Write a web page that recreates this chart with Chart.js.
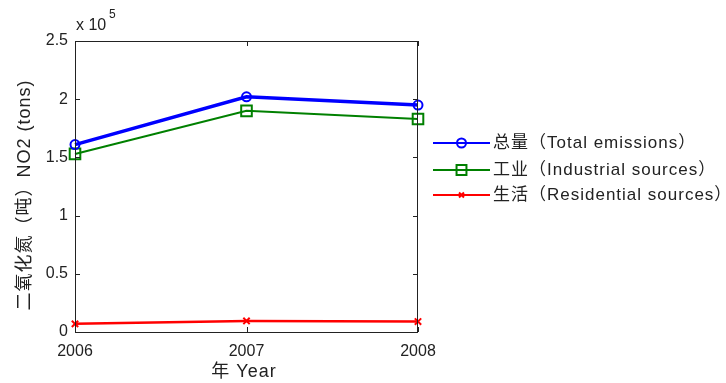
<!DOCTYPE html>
<html>
<head>
<meta charset="utf-8">
<script src="https://cdn.jsdelivr.net/npm/chart.js@4/dist/chart.umd.min.js"></script>
<style>
  html, body { margin: 0; padding: 0; background: #ffffff; }
  #wrap { width: 726px; height: 383px; }
</style>
</head>
<body>
<div id="wrap"><canvas id="c" width="726" height="383"></canvas></div>
<script>
// Years on the x axis
const years = ['2006', '2007', '2008'];

// NO2 emissions in tons
const totalEmissions = [161000, 202000, 195000];
const industrialSources = [153000, 190000, 183000];
const residentialSources = [7000, 9500, 9000];

// Y tick values (tons) and legend labels
const yTicks = [0, 50000, 100000, 150000, 200000, 250000];
const seriesLabels = ['总量（Total emissions）', '工业（Industrial sources）', '生活（Residential sources）'];

const axisFont = '16px "Liberation Sans", "Noto Sans CJK SC", sans-serif';
const titleFont = '18px "Liberation Sans", "Noto Sans CJK SC", sans-serif';
const textColor = '#222222';

// Box frame with MATLAB-style inward ticks, axis titles, exponent label and legend
const decorations = {
  id: 'decorations',
  afterDatasetsDraw(chart) {
    const ctx = chart.ctx;
    const a = chart.chartArea;
    const xs = chart.scales.x, ys = chart.scales.y;
    ctx.save();
    ctx.strokeStyle = '#222222';
    ctx.lineWidth = 1;
    ctx.beginPath();
    ctx.rect(a.left + 0.5, a.top + 0.5, a.right - a.left - 1, a.bottom - a.top);
    ctx.stroke();
    const tl = 5;
    ctx.beginPath();
    yTicks.forEach(v => {
      const y = Math.round(ys.getPixelForValue(v)) + 0.5;
      ctx.moveTo(a.left, y); ctx.lineTo(a.left + tl, y);
      ctx.moveTo(a.right, y); ctx.lineTo(a.right - tl, y);
    });
    years.forEach((_, i) => {
      const x = Math.round(xs.getPixelForValue(i)) + 0.5;
      ctx.moveTo(x, a.bottom); ctx.lineTo(x, a.bottom - tl);
      ctx.moveTo(x, a.top); ctx.lineTo(x, a.top + tl);
    });
    ctx.stroke();
    ctx.restore();
  },
  afterDraw(chart) {
    const ctx = chart.ctx;
    const a = chart.chartArea;
    ctx.save();
    ctx.fillStyle = textColor;
    ctx.font = axisFont;
    ctx.textBaseline = 'middle';

    // exponent label above the y axis
    ctx.textAlign = 'left';
    ctx.fillText('x 10', a.left + 1, 26);
    ctx.font = '12px "Liberation Sans", sans-serif';
    ctx.fillText('5', a.left + 34, 15);

    // axis titles
    ctx.font = titleFont;
    ctx.letterSpacing = '1px';
    ctx.textAlign = 'center';
    ctx.fillText('年 Year', 244, 372);

    ctx.save();
    ctx.translate(25, 195);
    ctx.rotate(-Math.PI / 2);
    ctx.fillText('二氧化氮（吨）NO2 (tons)', 0, 0);
    ctx.restore();

    // legend
    const rows = [143, 170, 195];
    chart.data.datasets.forEach((ds, i) => {
      const y = rows[i];
      ctx.strokeStyle = ds.borderColor;
      ctx.lineWidth = 2;
      ctx.beginPath();
      ctx.moveTo(433, y); ctx.lineTo(490, y);
      ctx.stroke();
      ctx.fillStyle = 'rgba(0,0,0,0)';
      ctx.lineWidth = 2;
      Chart.helpers.drawPoint(ctx, {
        pointStyle: ds.pointStyle,
        radius: ds.legendRadius,
        rotation: 0,
        borderWidth: 2
      }, 461.5, y);
      ctx.fillStyle = textColor;
      ctx.font = '17px "Liberation Sans", "Noto Sans CJK SC", sans-serif';
      ctx.letterSpacing = '1px';
      ctx.textAlign = 'left';
      ctx.fillText(ds.label, 493, y);
    });
    ctx.restore();
  }
};

new Chart(document.getElementById('c'), {
  type: 'line',
  data: {
    labels: years,
    datasets: [
      {
        label: seriesLabels[0],
        data: totalEmissions,
        borderColor: '#0000ff',
        backgroundColor: 'rgba(0,0,0,0)',
        borderWidth: 3.5,
        pointStyle: 'circle',
        pointRadius: 4.5,
        pointBorderWidth: 2,
        legendRadius: 4.5,
        order: 1
      },
      {
        label: seriesLabels[1],
        data: industrialSources,
        borderColor: '#008000',
        backgroundColor: 'rgba(0,0,0,0)',
        borderWidth: 2,
        pointStyle: 'rect',
        pointRadius: 7.5,
        pointBorderWidth: 2,
        legendRadius: 7,
        order: 2
      },
      {
        label: seriesLabels[2],
        data: residentialSources,
        borderColor: '#ff0000',
        backgroundColor: 'rgba(0,0,0,0)',
        borderWidth: 2.5,
        pointStyle: 'crossRot',
        pointRadius: 4.5,
        pointBorderWidth: 2,
        legendRadius: 3.5,
        order: 3
      }
    ]
  },
  options: {
    responsive: false,
    animation: false,
    devicePixelRatio: 1,
    layout: { padding: { left: 0, top: 41, right: 308, bottom: 0 } },
    plugins: {
      legend: { display: false },
      tooltip: { enabled: false }
    },
    elements: { line: { tension: 0 } },
    scales: {
      x: {
        type: 'category',
        offset: false,
        grid: { display: false, drawTicks: false },
        border: { display: false },
        ticks: {
          color: textColor,
          font: { family: '"Liberation Sans", sans-serif', size: 16 },
          padding: 10,
          maxRotation: 0
        },
        afterFit(s) { s.height = 51; }
      },
      y: {
        min: 0,
        max: 250000,
        afterBuildTicks(s) { s.ticks = yTicks.map(v => ({ value: v })); },
        grid: { display: false, drawTicks: false },
        border: { display: false },
        ticks: {
          color: textColor,
          font: { family: '"Liberation Sans", sans-serif', size: 16 },
          padding: 7,
          callback: v => String(v / 100000)
        },
        afterFit(s) { s.width = 75; }
      }
    }
  },
  plugins: [decorations]
});
</script>
</body>
</html>
